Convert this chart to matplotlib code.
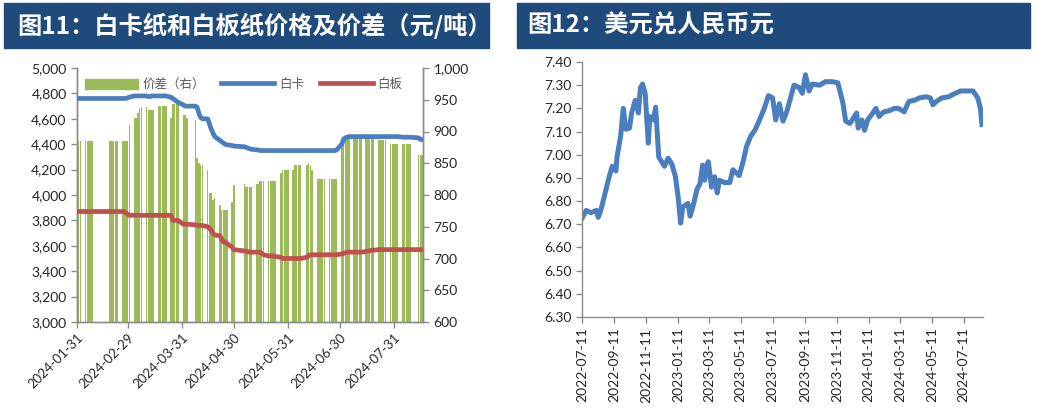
import matplotlib
matplotlib.use("Agg")
import matplotlib.pyplot as plt
import matplotlib.dates as mdates
import pandas as pd
from matplotlib.ticker import FuncFormatter, FixedLocator
from matplotlib.patches import Rectangle
from matplotlib.lines import Line2D

# ---------------- data: left chart (daily, 2024) ----------------
left_start = "2024-01-31"
left_end = "2024-08-16"
left_holidays = ["2024-02-12", "2024-02-13", "2024-02-14", "2024-02-15", "2024-02-16",
                 "2024-04-04", "2024-04-05", "2024-05-01", "2024-05-02", "2024-05-03",
                 "2024-06-10", "2024-08-12", "2024-08-13"]

spread_weeks = [  # 价差（右）
    [885, 885, 885],
    [885, 885, 885, 885, 885],
    [885, 885, 885, 885, 885],
    [885, 885, 885, 885, 910],
    [921, 921, 929, 937, 939],
    [939, 934, 934, 934, 934],
    [940, 940, 940, 940, 940],
    [921, 944, 944, 944, 944],
    [926, 926, 921],
    [918, 858, 850, 847, 847],
    [839, 803, 803, 792, 795],
    [784, 776, 776, 776, 776],
    [789, 816],
    [818, 813, 813, 813, 813],
    [818, 818, 822, 822, 822],
    [822, 822, 822, 822, 822],
    [834, 839, 839, 839, 839],
    [839, 847, 847, 847, 847],
    [847, 850, 845, 840],
    [825, 825, 825, 825, 825],
    [825, 825, 825, 825, 825],
    [876, 889, 889, 889, 889],
    [894, 894, 894, 894, 894],
    [890, 890, 890, 890, 890],
    [886, 886, 886, 886, 886],
    [881, 881, 881, 881, 881],
    [881, 881, 881, 881, 881],
    [863, 863, 863],
]

baika_weeks = [  # 白卡
    [4760, 4760, 4760],
    [4760, 4760, 4760, 4760, 4760],
    [4760, 4760, 4760, 4760, 4760],
    [4760, 4760, 4760, 4765, 4770],
    [4780, 4780, 4780, 4780, 4780],
    [4780, 4775, 4775, 4780, 4780],
    [4780, 4780, 4780, 4780, 4780],
    [4770, 4760, 4750, 4740, 4730],
    [4710, 4700, 4700],
    [4700, 4690, 4640, 4610, 4600],
    [4600, 4560, 4520, 4490, 4460],
    [4430, 4420, 4410, 4400, 4395],
    [4390, 4385],
    [4380, 4375, 4370, 4365, 4360],
    [4355, 4355, 4350, 4350, 4350],
    [4350, 4350, 4350, 4350, 4350],
    [4350, 4350, 4350, 4350, 4350],
    [4350, 4350, 4350, 4350, 4350],
    [4350, 4350, 4350, 4350],
    [4350, 4350, 4350, 4350, 4350],
    [4350, 4350, 4350, 4350, 4355],
    [4400, 4440, 4450, 4455, 4460],
    [4460, 4460, 4460, 4460, 4460],
    [4460, 4460, 4460, 4460, 4460],
    [4460, 4460, 4460, 4460, 4460],
    [4460, 4460, 4460, 4460, 4460],
    [4455, 4455, 4455, 4455, 4455],
    [4450, 4440, 4435],
]

baiban_weeks = [  # 白板
    [3870, 3870, 3870],
    [3870, 3870, 3870, 3870, 3870],
    [3870, 3870, 3870, 3870, 3870],
    [3870, 3870, 3860, 3850, 3840],
    [3840, 3840, 3840, 3840, 3840],
    [3840, 3840, 3840, 3840, 3840],
    [3840, 3840, 3840, 3840, 3840],
    [3840, 3800, 3800, 3800, 3800],
    [3770, 3770, 3770],
    [3765, 3760, 3760, 3760, 3760],
    [3750, 3740, 3720, 3700, 3685],
    [3680, 3650, 3630, 3630, 3620],
    [3590, 3570],
    [3560, 3555, 3555, 3550, 3550],
    [3550, 3550, 3550, 3540, 3530],
    [3520, 3520, 3520, 3520, 3515],
    [3510, 3500, 3500, 3500, 3500],
    [3500, 3500, 3500, 3500, 3500],
    [3510, 3525, 3530, 3530],
    [3530, 3530, 3530, 3530, 3530],
    [3530, 3530, 3530, 3530, 3530],
    [3535, 3540, 3545, 3550, 3550],
    [3550, 3550, 3550, 3550, 3550],
    [3555, 3560, 3560, 3565, 3565],
    [3570, 3570, 3570, 3570, 3570],
    [3570, 3570, 3570, 3570, 3570],
    [3570, 3570, 3570, 3570, 3570],
    [3570, 3570, 3570],
]

left_tick_dates = ["2024-01-31", "2024-02-29", "2024-03-31", "2024-04-30",
                   "2024-05-31", "2024-06-30", "2024-07-31"]

# ---------------- data: right chart (USD/CNY) ----------------
fx_dates = [
    "2022-07-12", "2022-07-19", "2022-07-28", "2022-08-08", "2022-08-11", "2022-08-16",
    "2022-08-26", "2022-09-01", "2022-09-07", "2022-09-14", "2022-09-16", "2022-09-23",
    "2022-09-28", "2022-10-03", "2022-10-10", "2022-10-14", "2022-10-21", "2022-10-27",
    "2022-10-31", "2022-11-04", "2022-11-09", "2022-11-15", "2022-11-18", "2022-11-25",
    "2022-11-29", "2022-12-05", "2022-12-12", "2022-12-16", "2022-12-23", "2022-12-30",
    "2023-01-06", "2023-01-11", "2023-01-16", "2023-01-20", "2023-01-30", "2023-02-03",
    "2023-02-10", "2023-02-16", "2023-02-22", "2023-02-27", "2023-03-03", "2023-03-08",
    "2023-03-10", "2023-03-16", "2023-03-22", "2023-03-27", "2023-03-31", "2023-04-10",
    "2023-04-20", "2023-04-26", "2023-05-08", "2023-05-15", "2023-05-22", "2023-05-30",
    "2023-06-07", "2023-06-16", "2023-06-26", "2023-07-03", "2023-07-11", "2023-07-17",
    "2023-07-24", "2023-07-31", "2023-08-07", "2023-08-15", "2023-08-21", "2023-08-31",
    "2023-09-06", "2023-09-12", "2023-09-19", "2023-09-25", "2023-10-09", "2023-10-20",
    "2023-11-03", "2023-11-13", "2023-11-17", "2023-11-23", "2023-11-28", "2023-12-06",
    "2023-12-12", "2023-12-19", "2023-12-22", "2023-12-29", "2024-01-03", "2024-01-09",
    "2024-01-19", "2024-01-25", "2024-01-31", "2024-02-09", "2024-02-20", "2024-02-29",
    "2024-03-08", "2024-03-19", "2024-03-28", "2024-04-08", "2024-04-17", "2024-04-30",
    "2024-05-08", "2024-05-13", "2024-05-20", "2024-05-30", "2024-06-12", "2024-06-25",
    "2024-07-05", "2024-07-29", "2024-08-07", "2024-08-12", "2024-08-15",
]
fx_values = [
    6.73, 6.76, 6.75, 6.76, 6.73, 6.76,
    6.85, 6.905, 6.95, 6.93, 6.99, 7.08,
    7.20, 7.11, 7.115, 7.18, 7.235, 7.18,
    7.29, 7.305, 7.265, 7.05, 7.165, 7.15,
    7.205, 6.99, 6.965, 6.95, 6.985, 6.96,
    6.905, 6.82, 6.705, 6.775, 6.79, 6.735,
    6.79, 6.85, 6.875, 6.955, 6.89, 6.96,
    6.97, 6.86, 6.905, 6.835, 6.89, 6.88,
    6.88, 6.935, 6.91, 6.965, 7.035, 7.08,
    7.105, 7.15, 7.205, 7.255, 7.245, 7.15,
    7.22, 7.145, 7.185, 7.25, 7.30, 7.29,
    7.265, 7.345, 7.275, 7.305, 7.30, 7.315,
    7.315, 7.31, 7.275, 7.22, 7.145, 7.135,
    7.155, 7.18, 7.115, 7.15, 7.105, 7.15,
    7.18, 7.20, 7.165, 7.185, 7.19, 7.20,
    7.20, 7.185, 7.23, 7.235, 7.245, 7.25,
    7.245, 7.215, 7.23, 7.245, 7.25, 7.265,
    7.275, 7.275, 7.245, 7.20, 7.13,
]
right_tick_dates = ["2022-07-11", "2022-09-11", "2022-11-11", "2023-01-11", "2023-03-11",
                    "2023-05-11", "2023-07-11", "2023-09-11", "2023-11-11", "2024-01-11",
                    "2024-03-11", "2024-05-11", "2024-07-11"]

# ---------------- build series ----------------
all_days = pd.bdate_range(left_start, left_end)
left_dates = all_days[~all_days.isin(pd.to_datetime(left_holidays))]
spread = [v for w in spread_weeks for v in w]
baika = [v for w in baika_weeks for v in w]
baiban = [v for w in baiban_weeks for v in w]
assert len(left_dates) == len(spread) == len(baika) == len(baiban)
assert len(fx_dates) == len(fx_values)

# ---------------- style ----------------
W, H = 1039, 417
plt.rcParams['font.family'] = ['Lato', 'Noto Sans CJK SC', 'DejaVu Sans']
CJK = ['Noto Sans CJK SC', 'DejaVu Sans']
NAVY = '#1F4A7C'
GREEN = '#9BBB59'
BLUE = '#4A7EBF'
RED = '#C0504D'
SPINE = '#8C8C8C'
TXT = '#262626'

fig = plt.figure(figsize=(W / 100, H / 100), dpi=100)

def fx(px):
    return px / W

def fy(py):
    return 1 - py / H

# title bars
for (x0, x1, title, tx) in [(4, 489, "图11：白卡纸和白板纸价格及价差（元/吨）", 17),
                            (517, 1030, "图12：美元兑人民币元", 527)]:
    fig.add_artist(Rectangle((fx(x0), fy(48)), fx(x1 - x0), 45 / H,
                             transform=fig.transFigure, color=NAVY, zorder=0))
    fig.text(fx(tx), fy(25.5), title, color='white', fontsize=17.5, fontweight='bold',
             family=CJK, va='center', ha='left')

# ---------------- left chart ----------------
ax = fig.add_axes([fx(77), fy(322), fx(423 - 77), (322 - 68) / H])
ax2 = ax.twinx()
ax2.bar(left_dates, spread, width=0.85, color=GREEN, zorder=1)
ax.plot(left_dates, baika, color=BLUE, lw=3.4, solid_capstyle='round', zorder=3)
ax.plot(left_dates, baiban, color=RED, lw=3.4, solid_capstyle='round', zorder=3)
ax.set_zorder(ax2.get_zorder() + 1)
ax.patch.set_visible(False)

ax.set_ylim(3000, 5000)
ax.yaxis.set_major_locator(FixedLocator(list(range(3000, 5001, 200))))
ax.yaxis.set_major_formatter(FuncFormatter(lambda v, p: f"{v:,.0f}"))
ax2.set_ylim(600, 1000)
ax2.yaxis.set_major_locator(FixedLocator(list(range(600, 1001, 50))))
ax2.yaxis.set_major_formatter(FuncFormatter(lambda v, p: f"{v:,.0f}"))

x_lo = pd.Timestamp(left_start)
x_hi = pd.Timestamp(left_end) + pd.Timedelta(hours=14)
ax.set_xlim(x_lo, x_hi)
ax.xaxis.set_major_locator(FixedLocator(mdates.date2num(pd.to_datetime(left_tick_dates))))
ax.xaxis.set_major_formatter(mdates.DateFormatter('%Y-%m-%d'))

for a in (ax, ax2):
    a.spines['top'].set_visible(False)
    for s in ('left', 'right', 'bottom'):
        a.spines[s].set_color(SPINE)
        a.spines[s].set_linewidth(1.0)
    a.tick_params(colors=SPINE, labelcolor=TXT, labelsize=10, length=4, width=1, direction='out')
ax.tick_params(axis='x', pad=3, labelsize=9.5)
for lab in ax.get_xticklabels():
    lab.set_rotation(45)
    lab.set_ha('right')
    lab.set_va('top')
    lab.set_rotation_mode('anchor')

handles = [Rectangle((0, 0), 1, 1, color=GREEN),
           Line2D([], [], color=BLUE, lw=3.4),
           Line2D([], [], color=RED, lw=3.4)]
leg = ax.legend(handles, ["价差（右）", "白卡", "白板"], ncol=3, frameon=False,
                loc='center', bbox_to_anchor=(0.482, 0.935), prop={'family': CJK, 'size': 9},
                handlelength=4.2, handleheight=0.9, columnspacing=1.3, handletextpad=0.4,
                labelcolor='#595959')

# ---------------- right chart ----------------
bx = fig.add_axes([fx(582), fy(317), fx(983 - 582), (317 - 62) / H])
bx.plot(pd.to_datetime(fx_dates), fx_values, color=BLUE, lw=3.6, solid_joinstyle='round')
bx.set_ylim(6.30, 7.40)
bx.yaxis.set_major_locator(FixedLocator([6.30 + 0.1 * i for i in range(12)]))
bx.yaxis.set_major_formatter(FuncFormatter(lambda v, p: f"{v:.2f}"))
bx.set_xlim(pd.Timestamp("2022-07-11"), pd.Timestamp("2024-08-17"))
bx.xaxis.set_major_locator(FixedLocator(mdates.date2num(pd.to_datetime(right_tick_dates))))
bx.xaxis.set_major_formatter(mdates.DateFormatter('%Y-%m-%d'))
bx.spines['top'].set_visible(False)
bx.spines['right'].set_visible(False)
for s in ('left', 'bottom'):
    bx.spines[s].set_color(SPINE)
    bx.spines[s].set_linewidth(1.0)
bx.tick_params(colors=SPINE, labelcolor=TXT, labelsize=10, length=4, width=1, direction='out')
for lab in bx.get_xticklabels():
    lab.set_rotation(90)
    lab.set_ha('center')
    lab.set_va('top')

fig.savefig("out.png", dpi=100)
